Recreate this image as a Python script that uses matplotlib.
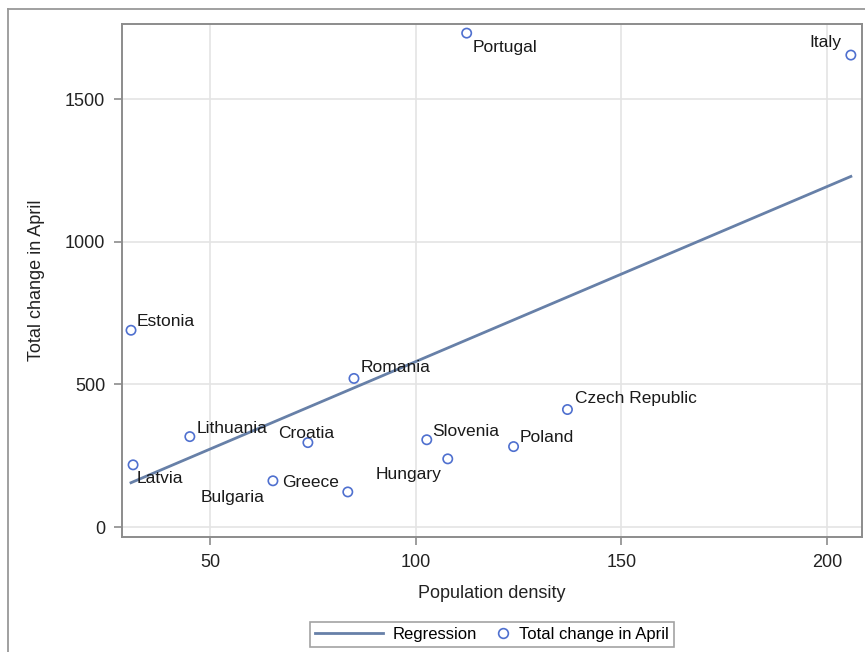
import numpy as np
import matplotlib.pyplot as plt
from matplotlib.lines import Line2D
from matplotlib.legend_handler import HandlerLine2D

plt.rcParams['font.family'] = ['Liberation Sans', 'DejaVu Sans']

countries = ['Estonia', 'Latvia', 'Lithuania', 'Romania', 'Croatia', 'Bulgaria',
             'Greece', 'Slovenia', 'Hungary', 'Poland', 'Czech Republic',
             'Portugal', 'Italy']
density = [30.8, 31.3, 45.1, 85.0, 73.8, 65.3, 83.5, 102.7, 107.8, 123.8, 136.9,
           112.4, 205.8]
change_april = [690, 218, 317, 521, 296, 162, 123, 306, 239, 282, 412, 1732, 1655]

# label placement (pixel offsets from the point, horizontal alignment)
label_pos = {
    'Estonia': (6, 4, 'left'),
    'Latvia': (4, -18, 'left'),
    'Lithuania': (7, 4, 'left'),
    'Romania': (7, 6, 'left'),
    'Croatia': (-30, 5, 'left'),
    'Bulgaria': (-8, -21, 'right'),
    'Greece': (-9, 5, 'right'),
    'Slovenia': (5, 4, 'left'),
    'Hungary': (-6, -20, 'right'),
    'Poland': (6, 5, 'left'),
    'Czech Republic': (8, 7, 'left'),
    'Portugal': (6, -19, 'left'),
    'Italy': (-9, 8, 'right'),
}

line_color = '#6780a8'
marker_color = '#4f70cf'
frame_color = '#8c8c8c'


class ShortMarkerHandler(HandlerLine2D):
    # draw the marker at the right end of the handle box, like SAS legends
    def create_artists(self, legend, orig_handle, xdescent, ydescent, width,
                       height, fontsize, trans):
        small = 0.8 * fontsize
        return super().create_artists(legend, orig_handle,
                                      xdescent - (width - small), ydescent,
                                      small, height, fontsize, trans)


x = np.array(density)
y = np.array(change_april)
slope, intercept = np.polyfit(x, y, 1)
fit_x = np.array([x.min(), x.max()])
fit_y = intercept + slope * fit_x

fig = plt.figure(figsize=(8.65, 6.52), dpi=100)
ax = fig.add_axes([0.141, 0.1764, 0.8555, 0.7868])

ax.plot(fit_x, fit_y, color=line_color, linewidth=2, zorder=2)
ax.scatter(x, y, s=45, facecolors='none', edgecolors=marker_color,
           linewidths=1.2, zorder=3)

for name, xv, yv in zip(countries, density, change_april):
    dx, dy, ha = label_pos[name]
    ax.annotate(name, (xv, yv), xytext=(dx, dy), textcoords='offset pixels',
                ha=ha, va='baseline', fontsize=12.5, color='#1a1a1a')

ax.set_xlim(28.6, 208.5)
ax.set_ylim(-35, 1764)
ax.set_xticks([50, 100, 150, 200])
ax.set_yticks([0, 500, 1000, 1500])
ax.grid(True, color='#e4e4e4', linewidth=1.2)
ax.set_axisbelow(True)
for sp in ax.spines.values():
    sp.set_color(frame_color)
    sp.set_linewidth(1.4)
ax.tick_params(direction='out', length=6, width=1.2, color=frame_color,
               labelsize=13, labelcolor='#222222', pad=6)

ax.set_xlabel('Population density', fontsize=13, color='#222222', labelpad=10)
ax.set_ylabel('Total change in April', fontsize=13, color='#222222', labelpad=14)

reg_handle = Line2D([], [], color=line_color, linewidth=2)
pt_handle = Line2D([], [], linestyle='none', marker='o', markerfacecolor='none',
                   markeredgecolor=marker_color, markersize=7, markeredgewidth=1.2)
leg = fig.legend([reg_handle, pt_handle], ['Regression', 'Total change in April'],
                 loc='upper center', bbox_to_anchor=(0.5688, 1 - 622 / 652), ncol=2,
                 fontsize=12, frameon=True, fancybox=False, handlelength=4.1,
                 columnspacing=-2.1, borderpad=0.3, borderaxespad=0,
                 handletextpad=0.55,
                 handler_map={pt_handle: ShortMarkerHandler(numpoints=1)})
leg.get_frame().set_edgecolor(frame_color)
leg.get_frame().set_linewidth(1.2)

# outer frame (left and top edges only visible)
fig.add_artist(Line2D([8 / 865, 8 / 865], [0, 1 - 9 / 652],
                      transform=fig.transFigure, color='#999999', linewidth=1.3))
fig.add_artist(Line2D([8 / 865, 1], [1 - 9 / 652, 1 - 9 / 652],
                      transform=fig.transFigure, color='#999999', linewidth=1.3))

fig.savefig('out.png', dpi=100)
